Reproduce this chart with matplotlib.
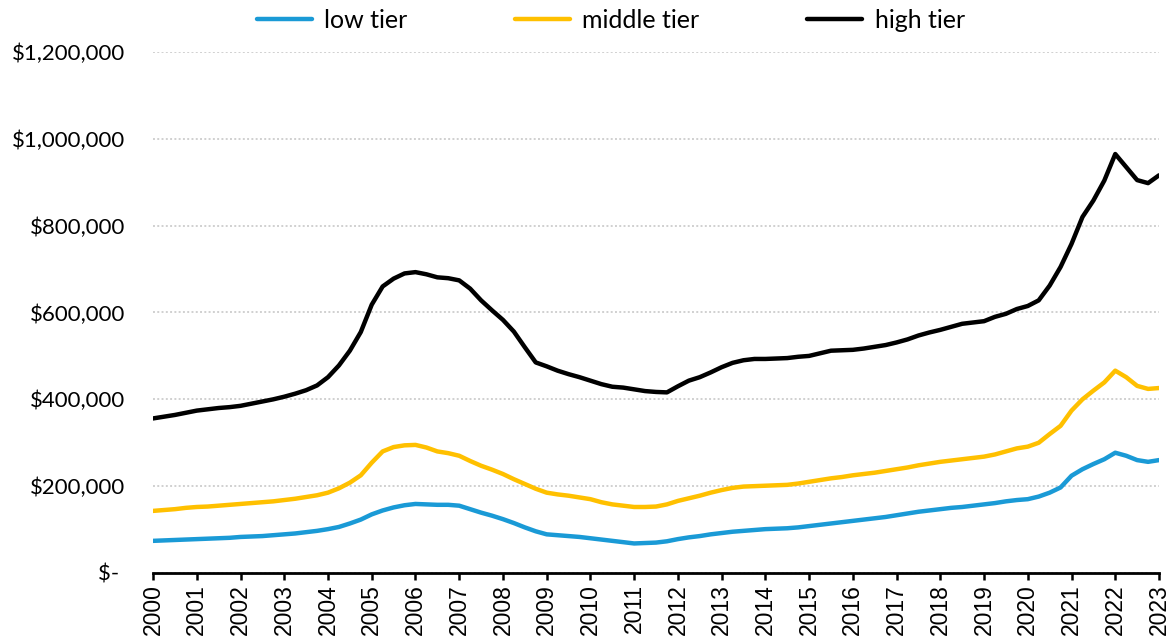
import numpy as np
import matplotlib.pyplot as plt
from matplotlib.ticker import FuncFormatter

# quarterly points, 2000 Q1 .. 2023 Q1 (values in $ thousands)
quarters = np.arange(2000, 2023.01, 0.25)

high_tier = [
    356, 360, 364, 369, 374, 377, 380, 382, 385, 390, 395, 400,
    406, 413, 421, 432, 451, 478, 512, 555, 618, 660, 678, 690,
    693, 688, 681, 679, 674, 655, 628, 605, 583, 556, 520, 485,
    476, 466, 458, 451, 443, 435, 429, 427, 423, 419, 417, 416,
    430, 443, 451, 462, 474, 484, 490, 493, 493, 494, 495, 498,
    500, 506, 512, 513, 514, 517, 521, 525, 531, 538, 547, 554,
    560, 567, 574, 577, 580, 590, 597, 608, 615, 628, 662, 705,
    758, 820, 858, 904, 965, 935, 905, 898, 916,
]
middle_tier = [
    143, 145, 147, 150, 152, 153, 155, 157, 159, 161, 163, 165,
    168, 171, 175, 179, 185, 195, 208, 225, 254, 280, 290, 294,
    295, 289, 280, 276, 270, 258, 247, 238, 228, 216, 205, 194,
    185, 181, 178, 174, 170, 163, 158, 155, 152, 152, 153, 158,
    166, 172, 178, 185, 191, 196, 199, 200, 201, 202, 203, 206,
    210, 214, 218, 221, 225, 228, 231, 235, 239, 243, 248, 252,
    256, 259, 262, 265, 268, 273, 280, 287, 291, 300, 320, 339,
    374, 400, 420, 439, 466, 451, 431, 424, 426,
]
low_tier = [
    74, 75, 76, 77, 78, 79, 80, 81, 83, 84, 85, 87,
    89, 91, 94, 97, 101, 106, 114, 123, 135, 144, 151, 156,
    159, 158, 157, 157, 155, 147, 139, 132, 124, 115, 105, 96,
    89, 87, 85, 83, 80, 77, 74, 71, 68, 69, 70, 73,
    78, 82, 85, 89, 92, 95, 97, 99, 101, 102, 103, 105,
    108, 111, 114, 117, 120, 123, 126, 129, 133, 137, 141, 144,
    147, 150, 152, 155, 158, 161, 165, 168, 170, 176, 185, 197,
    224, 239, 251, 262, 277, 270, 260, 256, 260,
]
series_names = ["low tier", "middle tier", "high tier"]
colors = ["#1a9ad6", "#ffc000", "#000000"]
year_ticks = list(range(2000, 2024))

plt.rcParams['font.family'] = ['Lato', 'DejaVu Sans']

fig = plt.figure(figsize=(11.7, 6.43), dpi=100)
ax = fig.add_axes([0.1308, 0.1089, 0.8598, 0.8102])

for name, vals, c in zip(series_names, [low_tier, middle_tier, high_tier], colors):
    ax.plot(quarters, np.array(vals) * 1000, color=c, lw=3.2, label=name,
            solid_joinstyle='round', solid_capstyle='round')

ax.set_xlim(2000, 2023)
ax.set_ylim(0, 1200000)
ax.set_yticks(range(0, 1200001, 200000))
ax.yaxis.set_major_formatter(FuncFormatter(lambda v, p: "$- " if v == 0 else f"${v:,.0f}"))
ax.set_xticks(year_ticks)
ax.set_xticklabels([str(y) for y in year_ticks], rotation=90,
                   family='Liberation Sans', fontsize=16.5)

ax.grid(axis='y', color='#d0d0d0', linestyle=(0, (1, 1.2)), linewidth=1.4)
ax.set_axisbelow(True)
for s in ['top', 'right', 'left']:
    ax.spines[s].set_visible(False)
ax.spines['bottom'].set_linewidth(2)
ax.tick_params(axis='x', direction='out', length=5, width=1.8, pad=3)
ax.tick_params(axis='y', length=0, labelsize=16, pad=20)

fig.legend(loc='center', bbox_to_anchor=(0.522, 0.968), ncol=3, frameon=False,
           fontsize=18, handlelength=2.2, columnspacing=4.3, handletextpad=0.5)

plt.savefig("out.png", dpi=100)
